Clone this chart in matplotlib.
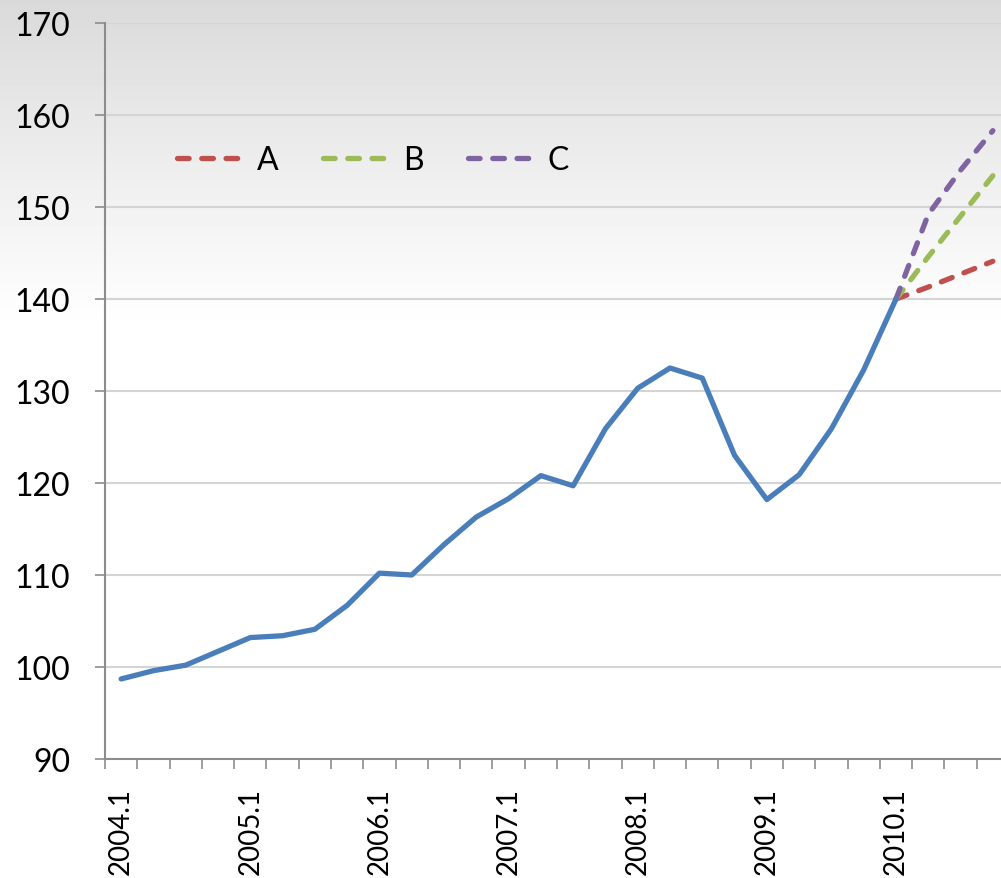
import numpy as np
import matplotlib
matplotlib.use("Agg")
import matplotlib.pyplot as plt

# quarterly categories 2004.1 .. 2010.4
quarters = [f"{y}.{q}" for y in range(2004, 2011) for q in range(1, 5)]

# observed index (2004.1 .. 2010.1)
actual = [98.7, 99.6, 100.2, 101.7, 103.2, 103.4, 104.1, 106.7, 110.2, 110.0,
          113.3, 116.3, 118.3, 120.8, 119.7, 125.9, 130.3, 132.5, 131.4, 123.0,
          118.2, 120.9, 125.9, 132.3, 140.0]

# scenarios 2010.1 .. 2010.4
scen_a = [140.0, 141.3, 142.7, 144.1]
scen_b = [140.0, 144.6, 149.0, 153.4]
scen_c = [140.0, 149.2, 154.0, 158.3]

blue = "#4a7ebb"
red = "#c0504d"
green = "#9bbb59"
purple = "#8064a2"

plt.rcParams['font.family'] = ['Lato', 'DejaVu Sans']

fig = plt.figure(figsize=(10.01, 8.79), dpi=100)
fig.patch.set_facecolor("white")

# grey gradient background behind everything
bg = fig.add_axes([0, 0, 1, 1], zorder=0)
H = 879
rows = np.arange(H)
shade = np.clip(0.85 + 0.15 * (rows / 330.0) ** 0.9, 0, 1.0)
grad = np.repeat(shade[:, None], 2, axis=1)
bg.imshow(grad, cmap="gray", vmin=0, vmax=1, aspect="auto",
          extent=[0, 1, 0, 1], origin="upper")
bg.axis("off")

ax = fig.add_axes([105 / 1001, 119 / 879, 904 / 1001, 736 / 879], zorder=1)
ax.set_facecolor("none")

n = len(quarters)
x_act = np.arange(len(actual))
x_scen = np.arange(len(actual) - 1, n)

dash = (2.2, 2.4)
lw = 3.8
ax.plot(x_scen, scen_a, color=red, lw=lw, dashes=dash, dash_capstyle="round", label="A", zorder=3)
ax.plot(x_scen, scen_b, color=green, lw=lw, dashes=dash, dash_capstyle="round", label="B", zorder=3)
ax.plot(x_scen, scen_c, color=purple, lw=lw, dashes=dash, dash_capstyle="round", label="C", zorder=3)
ax.plot(x_act, actual, color=blue, lw=lw, solid_capstyle="round", zorder=4)

ax.set_xlim(-0.5, n - 0.5)
ax.set_ylim(90, 170)
ax.set_yticks(np.arange(90, 171, 10))

ax.set_xticks(np.arange(0, n, 4))
ax.set_xticklabels([quarters[i] for i in range(0, n, 4)], rotation=90)
ax.set_xticks(np.arange(-0.5, n, 1), minor=True)

ax.tick_params(axis="x", which="major", length=0, pad=20, labelsize=20)
ax.tick_params(axis="x", which="minor", length=7, width=1.2, color="#8c8c8c", direction="out")
ax.tick_params(axis="y", length=7, width=1.2, color="#8c8c8c", pad=18, labelsize=23)

for v in range(100, 171, 10):
    ax.axhline(v, color="#d4d4d4", lw=1.5, zorder=1)

for s in ["top", "right"]:
    ax.spines[s].set_visible(False)
for s in ["left", "bottom"]:
    ax.spines[s].set_color("#8c8c8c")
    ax.spines[s].set_linewidth(1.5)

leg = ax.legend(loc="upper left", bbox_to_anchor=(0.066, 0.852), ncol=3, frameon=False,
                fontsize=23, handlelength=2.0, handletextpad=0.5, columnspacing=1.38,
                borderaxespad=0)

fig.savefig("out.png", dpi=100)
